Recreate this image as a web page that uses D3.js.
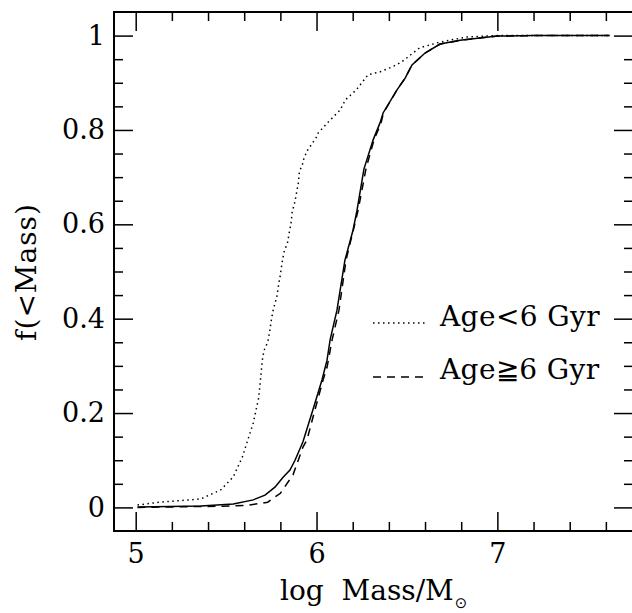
<!DOCTYPE html>
<head>
<meta charset="utf-8">
<title>f(&lt;Mass)</title>
<style>
body { margin: 0; background: #fff; }
.axis path { display: none; }
.axis line { stroke: #000; stroke-width: 1.5px; }
.frame { fill: none; stroke: #000; stroke-width: 2px; }
.curve { fill: none; stroke: #000; stroke-width: 1.5px; }
</style>
<script src="https://d3js.org/d3.v7.min.js"></script>
</head>
<body>
<script>
// cumulative mass functions
var massYoung = [5.01, 5.13, 5.30, 5.36, 5.47, 5.54, 5.59, 5.65, 5.68, 5.69, 5.70, 5.71, 5.73, 5.74,
  5.75, 5.76, 5.78, 5.79, 5.80, 5.81, 5.82, 5.84, 5.85, 5.86, 5.865, 5.88, 5.89, 5.90, 5.905, 5.925,
  5.93, 5.95, 5.97, 6.00, 6.01, 6.07, 6.13, 6.16, 6.22, 6.285, 6.35, 6.42, 6.47, 6.57, 6.68, 6.83,
  7.00, 7.30, 7.62];
var fracYoung = [0.005, 0.011, 0.016, 0.018, 0.037, 0.065, 0.107, 0.179, 0.232, 0.270, 0.312, 0.333,
  0.350, 0.371, 0.397, 0.418, 0.446, 0.471, 0.493, 0.520, 0.541, 0.562, 0.584, 0.605, 0.626, 0.647,
  0.668, 0.689, 0.711, 0.730, 0.740, 0.757, 0.768, 0.785, 0.794, 0.819, 0.842, 0.864, 0.885, 0.917,
  0.923, 0.934, 0.944, 0.974, 0.986, 0.997, 1.0, 1.0, 1.0];

var massOld = [5.01, 5.54, 5.63, 5.73, 5.80, 5.87, 5.925, 5.947, 5.99, 6.036, 6.058, 6.086, 6.124,
  6.163, 6.23, 6.274, 6.318, 6.357, 6.37, 6.445, 6.49, 6.528, 6.60, 6.683, 6.794, 7.00, 7.20, 7.62];
var fracOld = [0.0, 0.003, 0.005, 0.011, 0.030, 0.069, 0.128, 0.143, 0.205, 0.270, 0.297, 0.355,
  0.418, 0.524, 0.630, 0.719, 0.779, 0.815, 0.836, 0.885, 0.910, 0.938, 0.963, 0.982, 0.990, 0.999,
  1.0, 1.0];

var massAll = [5.01, 5.36, 5.54, 5.65, 5.715, 5.77, 5.815, 5.853, 5.881, 5.925, 5.98, 6.03, 6.058,
  6.075, 6.113, 6.157, 6.202, 6.224, 6.262, 6.313, 6.351, 6.368, 6.445, 6.49, 6.528, 6.60, 6.683,
  6.794, 7.00, 7.20, 7.62];
var fracAll = [0.001, 0.003, 0.007, 0.016, 0.026, 0.043, 0.064, 0.079, 0.100, 0.139, 0.207, 0.270,
  0.312, 0.355, 0.418, 0.524, 0.588, 0.630, 0.717, 0.779, 0.815, 0.836, 0.885, 0.910, 0.938, 0.963,
  0.982, 0.990, 0.999, 1.0, 1.0];

var xMajor = [5, 6, 7],
    xMinor = [5.2, 5.4, 5.6, 5.8, 6.2, 6.4, 6.6, 6.8, 7.2, 7.4, 7.6],
    xLabels = ["5", "6", "7"],
    yMajor = [0, 0.2, 0.4, 0.6, 0.8, 1],
    yMinor = [0.05, 0.1, 0.15, 0.25, 0.3, 0.35, 0.45, 0.5, 0.55, 0.65, 0.7, 0.75, 0.85, 0.9, 0.95],
    yLabels = ["0", "0.2", "0.4", "0.6", "0.8", "1"];

var legendNames = ["Age<6 Gyr", "Age\u22676 Gyr"];

var FONT = "'DejaVu Serif', 'Liberation Serif', serif";
var W = 632, H = 613;
var x = d3.scaleLinear().domain([4.88, 7.75]).range([114, 633]);
var y = d3.scaleLinear().domain([-0.05, 1.05]).range([531, 12]);

var svg = d3.select("body").append("svg")
    .attr("width", W)
    .attr("height", H);

function ticks(axis, values, len, trans, labels, pad) {
  var g = svg.append("g")
      .attr("class", "axis")
      .attr("transform", trans)
      .call(axis.tickValues(values).tickSize(-len).tickPadding(pad || 3)
        .tickFormat(labels ? function(d, i) { return labels[i]; } : ""));
  g.selectAll("text")
      .style("font-family", FONT)
      .style("font-size", "27px")
      .style("fill", "#000");
  return g;
}

// bottom / top
ticks(d3.axisBottom(x), xMajor, 19, "translate(0,531)", xLabels, 13);
ticks(d3.axisBottom(x), xMinor, 9, "translate(0,531)");
ticks(d3.axisTop(x), xMajor, 19, "translate(0,12)");
ticks(d3.axisTop(x), xMinor, 9, "translate(0,12)");
// left / right
ticks(d3.axisLeft(y), yMajor, 19, "translate(114,0)", yLabels, 9);
ticks(d3.axisLeft(y), yMinor, 9, "translate(114,0)");
ticks(d3.axisRight(y), yMajor, 19, "translate(633,0)");
ticks(d3.axisRight(y), yMinor, 9, "translate(633,0)");

svg.append("rect")
    .attr("class", "frame")
    .attr("x", x(4.88)).attr("y", y(1.05))
    .attr("width", x(7.75) - x(4.88))
    .attr("height", y(-0.05) - y(1.05));

var line = d3.line()
    .x(function(d) { return x(d[0]); })
    .y(function(d) { return y(d[1]); });

function pairs(a, b) { return a.map(function(v, i) { return [v, b[i]]; }); }

svg.append("path").attr("class", "curve")
    .attr("d", line(pairs(massYoung, fracYoung)))
    .style("stroke-dasharray", "1.5,3.5");
svg.append("path").attr("class", "curve")
    .attr("d", line(pairs(massOld, fracOld)))
    .style("stroke-dasharray", "8,6");
svg.append("path").attr("class", "curve")
    .attr("d", line(pairs(massAll, fracAll)));

// legend
var leg = svg.append("g").attr("class", "legend");
[["1.5,3.5", 323, 326], ["8,6", 377, 379]].forEach(function(r, i) {
  leg.append("line")
      .attr("class", "curve")
      .attr("x1", 373).attr("x2", 426)
      .attr("y1", r[1]).attr("y2", r[1])
      .style("stroke-dasharray", r[0]);
  leg.append("text")
      .attr("x", 440).attr("y", r[2])
      .style("font-family", FONT)
      .style("font-size", "28px")
      .style("letter-spacing", "0.4px")
      .text(legendNames[i]);
});

// axis titles
var xt = svg.append("text")
    .attr("x", 280).attr("y", 600)
    .style("font-family", FONT)
    .style("font-size", "28px");
xt.append("tspan").text("log\u00a0\u00a0Mass/M");
xt.append("tspan").attr("dy", 8).attr("dx", 1).style("font-size", "15px")
    .style("font-family", "'DejaVu Sans'").text("\u2299");

svg.append("text")
    .attr("transform", "translate(36,272) rotate(-90)")
    .attr("text-anchor", "middle")
    .style("font-family", FONT)
    .style("font-size", "28px")
    .style("letter-spacing", "1px")
    .text("f(<Mass)");
</script>
</body>
